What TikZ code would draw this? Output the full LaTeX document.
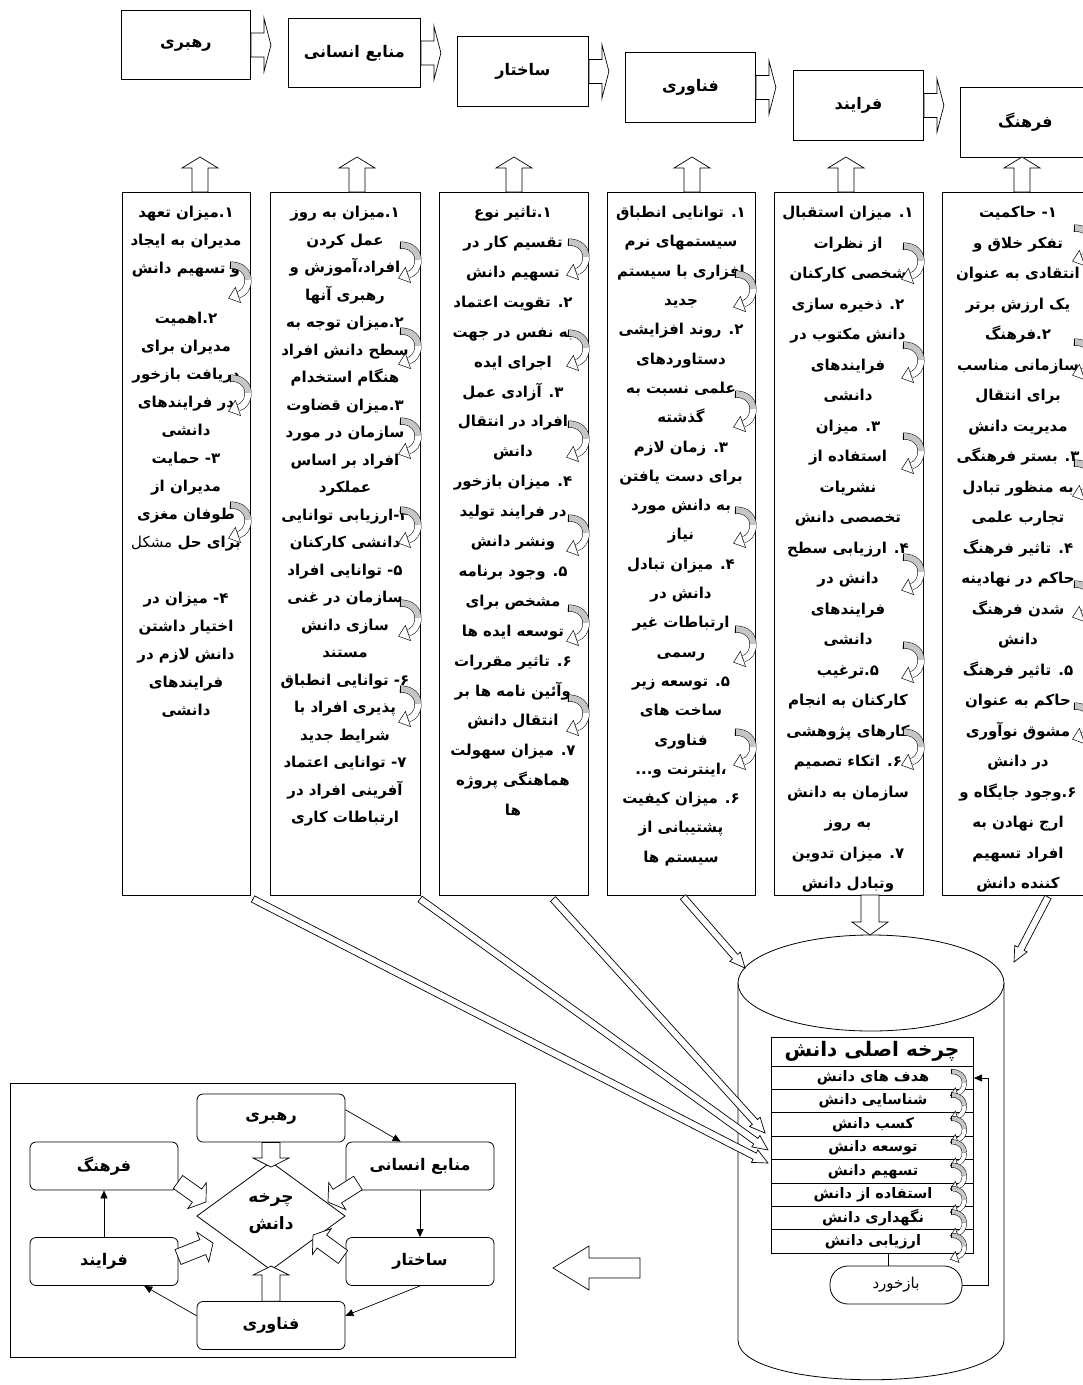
\documentclass[tikz,border=0pt]{standalone}
\usepackage{fontspec}
\usetikzlibrary{calc,arrows.meta}
\TeXXeTstate=1
\newfontfamily\fa[Script=Arabic]{DejaVu Sans}
\newcommand\RL[1]{\beginR #1\endR}
\newcommand\blockarr[6][]{%
  \coordinate (baH) at ($(#3)!#6!(#2)$);
  \draw[arrbody,#1] ($(#2)!#4!90:(#3)$) -- ($(baH)!#4!90:(#3)$) -- ($(baH)!#5!90:(#3)$) -- (#3) -- ($(baH)!#5!-90:(#3)$) -- ($(baH)!#4!-90:(#3)$) -- ($(#2)!#4!-90:(#3)$) -- cycle;}
\tikzset{
  pics/curvarr/.style={code={
    \draw[line width=0.5pt, double=gray!45, double distance=#1] (2,5) .. controls (14,5) and (20,12) .. (20,20);
    \draw[line width=0.5pt, double=white, double distance=#1] (20,20) .. controls (20,28) and (16,33) .. (10.5,34.8);
    \draw[line width=0.5pt, fill=white] (7.4,27.4) -- (0.5,38.2) -- (12.6,42.6) -- cycle;
    \draw[line width=0.5pt] (2,1.5) -- (2,8.5);
  }}
}
\begin{document}
\begin{tikzpicture}[x=1pt,y=-1pt,
  topbox/.style={draw, line width=0.9pt, inner sep=0, anchor=north west, font=\fa\bfseries\fontsize{16}{18}\selectfont},
  colbox/.style={draw, line width=0.8pt, inner sep=0, anchor=north west},
  coltext/.style={font=\fa\bfseries\fontsize{15}{#1}\selectfont, align=center, inner sep=0, anchor=north},
  arrbody/.style={draw, line width=0.7pt, fill=white, line join=miter},
  smallbox/.style={draw, rounded corners=6pt, line width=0.8pt, minimum width=148, minimum height=48, inner sep=0, font=\fa\bfseries\fontsize{16}{18}\selectfont},
  thinarr/.style={line width=0.7pt, -{Triangle[length=8pt,width=7pt]}},
  rowtext/.style={font=\fa\bfseries\fontsize{14.5}{16}\selectfont, inner sep=0},
]
\useasboundingbox (0,0) rectangle (1083,1385);
\clip (0,0) rectangle (1083,1385);
\fill[white] (0,0) rectangle (1083,1385);

% ---------- top boxes ----------
\node[topbox, minimum width=129, minimum height=69] (t1) at (121,10) {\RL{رهبری}};
\node[topbox, minimum width=132, minimum height=69] (t2) at (288,18) {\RL{منابع انسانی}};
\node[topbox, minimum width=131, minimum height=70] (t3) at (457,36) {\RL{ساختار}};
\node[topbox, minimum width=130, minimum height=70] (t4) at (625,52) {\RL{فناوری}};
\node[topbox, minimum width=130, minimum height=70] (t5) at (793,70) {\RL{فرایند}};
\node[topbox, minimum width=130, minimum height=70] (t6) at (960,87) {\RL{فرهنگ}};
\foreach \i in {1,...,5}{
  \coordinate (ta\i) at ($(t\i.east)+(20,0)$);
  \blockarr{t\i.east}{ta\i}{12pt}{27pt}{7pt}
}

% ---------- columns ----------
\node[colbox, minimum width=128, minimum height=703] (c1) at (122,192) {};
\node[colbox, minimum width=150, minimum height=703] (c2) at (270,192) {};
\node[colbox, minimum width=149, minimum height=703] (c3) at (439,192) {};
\node[colbox, minimum width=148, minimum height=703] (c4) at (607,192) {};
\node[colbox, minimum width=149, minimum height=703] (c5) at (774,192) {};
\node[colbox, minimum width=152, minimum height=703] (c6) at (942,192) {};

% up arrows
\foreach \i/\x in {1/200,2/357,3/514,4/692,5/846,6/1022}{
  \coordinate (ub\i) at (\x,192);
  \coordinate (ut\i) at (\x,157);
  \blockarr{ub\i}{ut\i}{8pt}{18pt}{11pt}
}

\node[coltext=28] (c1t) at (186,206) {%
\RL{۱.میزان تعهد}\\
\RL{مدیران به ایجاد}\\
\RL{و تسهیم دانش}\\[22pt]
\RL{۲.اهمیت}\\
\RL{مدیران برای}\\
\RL{دریافت بازخور}\\
\RL{در فرایندهای}\\
\RL{دانشی}\\
\RL{۳- حمایت}\\
\RL{مدیران از}\\
\RL{طوفان مغزی}\\
\RL{برای حل {\mdseries مشکل}}\\[28pt]
\RL{۴- میزان در}\\
\RL{اختیار داشتن}\\
\RL{دانش لازم در}\\
\RL{فرایندهای}\\
\RL{دانشی}};

\node[coltext=27.5] (c2t) at (345,206) {%
\RL{۱.میزان به روز}\\
\RL{عمل کردن}\\
\RL{افراد،آموزش و}\\
\RL{رهبری آنها}\\
\RL{۲.میزان توجه به}\\
\RL{سطح دانش افراد}\\
\RL{هنگام استخدام}\\
\RL{۳.میزان قضاوت}\\
\RL{سازمان در مورد}\\
\RL{افراد بر اساس}\\
\RL{عملکرد}\\
\RL{۴-ارزیابی توانایی}\\
\RL{دانشی کارکنان}\\
\RL{۵- توانایی افراد}\\
\RL{سازمان در غنی}\\
\RL{سازی دانش}\\
\RL{مستند}\\
\RL{۶- توانایی انطباق}\\
\RL{پذیری افراد با}\\
\RL{شرایط جدید}\\
\RL{۷- توانایی اعتماد}\\
\RL{آفرینی افراد در}\\
\RL{ارتباطات کاری}};

\node[coltext=29.9] (c3t) at (513,206) {%
\RL{۱.تاثیر نوع}\\
\RL{تقسیم کار در}\\
\RL{تسهیم دانش}\\
\RL{۲. تقویت اعتماد}\\
\RL{به نفس در جهت}\\
\RL{اجرای ایده}\\
\RL{۳. آزادی عمل}\\
\RL{افراد در انتقال}\\
\RL{دانش}\\
\RL{۴. میزان بازخور}\\
\RL{در فرایند تولید}\\
\RL{ونشر دانش}\\
\RL{۵. وجود برنامه}\\
\RL{مشخص برای}\\
\RL{توسعه ایده ها}\\
\RL{۶. تاثیر مقررات}\\
\RL{وآئین نامه ها بر}\\
\RL{انتقال دانش}\\
\RL{۷. میزان سهولت}\\
\RL{هماهنگی پروژه}\\
\RL{ها}};

\node[coltext=29.3] (c4t) at (681,206) {%
\RL{۱. توانایی انطباق}\\
\RL{سیستمهای نرم}\\
\RL{افزاری با سیستم}\\
\RL{جدید}\\
\RL{۲. روند افزایشی}\\
\RL{دستاوردهای}\\
\RL{علمی نسبت به}\\
\RL{گذشته}\\
\RL{۳. زمان لازم}\\
\RL{برای دست یافتن}\\
\RL{به دانش مورد}\\
\RL{نیاز}\\
\RL{۴. میزان تبادل}\\
\RL{دانش در}\\
\RL{ارتباطات غیر}\\
\RL{رسمی}\\
\RL{۵. توسعه زیر}\\
\RL{ساخت های}\\
\RL{فناوری}\\
\RL{،اینترنت و...}\\
\RL{۶. میزان کیفیت}\\
\RL{پشتیبانی از}\\
\RL{سیستم ها}};

\node[coltext=30.5] (c5t) at (848,206) {%
\RL{۱. میزان استقبال}\\
\RL{از نظرات}\\
\RL{شخصی کارکنان}\\
\RL{۲. ذخیره سازی}\\
\RL{دانش مکتوب در}\\
\RL{فرایندهای}\\
\RL{دانشی}\\
\RL{۳. میزان}\\
\RL{استفاده از}\\
\RL{نشریات}\\
\RL{تخصصی دانش}\\
\RL{۴. ارزیابی سطح}\\
\RL{دانش در}\\
\RL{فرایندهای}\\
\RL{دانشی}\\
\RL{۵.ترغیب}\\
\RL{کارکنان به انجام}\\
\RL{کارهای پژوهشی}\\
\RL{۶. اتکاء تصمیم}\\
\RL{سازمان به دانش}\\
\RL{به روز}\\
\RL{۷. میزان تدوین}\\
\RL{وتبادل دانش}};

\node[coltext=30.5] (c6t) at (1018,206) {%
\RL{۱- حاکمیت}\\
\RL{تفکر خلاق و}\\
\RL{انتقادی به عنوان}\\
\RL{یک ارزش برتر}\\
\RL{۲.فرهنگ}\\
\RL{سازمانی مناسب}\\
\RL{برای انتقال}\\
\RL{مدیریت دانش}\\
\RL{۳. بستر فرهنگی}\\
\RL{به منظور تبادل}\\
\RL{تجارب علمی}\\
\RL{۴. تاثیر فرهنگ}\\
\RL{حاکم در نهادینه}\\
\RL{شدن فرهنگ}\\
\RL{دانش}\\
\RL{۵. تاثیر فرهنگ}\\
\RL{حاکم به عنوان}\\
\RL{مشوق نوآوری}\\
\RL{در دانش}\\
\RL{۶.وجود جایگاه و}\\
\RL{ارج نهادن به}\\
\RL{افراد تسهیم}\\
\RL{کننده دانش}};

% curved arrows on column edges
\foreach \y in {260,373,500} {\pic at (228,\y) {curvarr=6pt};}
\foreach \y in {240,326,416,505,598,684} {\pic at (398,\y) {curvarr=6pt};}
\foreach \y in {237,328,419,513,603,693} {\pic at (566,\y) {curvarr=6pt};}
\foreach \y in {269,389,505,624,727} {\pic at (733,\y) {curvarr=6pt};}
\foreach \y in {241,340,431,552,640,727} {\pic at (901,\y) {curvarr=6pt};}
\foreach \y in {223,337,458,579,701} {\pic at (1072,\y) {curvarr=6pt};}

% ---------- cylinder ----------
\draw[line width=0.8pt, fill=white] (738,983) -- (738,1340) .. controls (738,1393) and (1004,1393) .. (1004,1340) -- (1004,983);
\draw[line width=0.8pt, fill=white] (871,983) ellipse [x radius=133, y radius=48];
\coordinate (cyltop) at (870,935);
\coordinate (c5bot) at (870,895);
\blockarr{c5bot}{cyltop}{9pt}{18pt}{13pt}

\node[draw, line width=0.8pt, minimum width=202, minimum height=216, anchor=north west, inner sep=0] (tbl) at (771,1037) {};
\node[font=\fa\bfseries\fontsize{20}{22}\selectfont] (ttl) at (872,1051) {\RL{چرخه اصلی دانش}};
\draw[line width=0.8pt] (771,1066) -- (973,1066);
\foreach \k in {1,...,7}{ \draw[line width=0.7pt] (771,{1066+\k*23.4}) -- (973,{1066+\k*23.4}); }
\foreach \k/\t in {1/هدف های دانش,2/شناسایی دانش,3/کسب دانش,4/توسعه دانش,5/تسهیم دانش,6/استفاده از دانش,7/نگهداری دانش,8/ارزیابی دانش}{
  \node[rowtext] (r\k) at (873,{1066+(\k-0.5)*23.4}) {\RL{\t}};
}
\foreach \k in {0,...,7}{ \pic[scale=0.72] at (950,{1068+\k*23.4}) {curvarr=4pt}; }

\node[draw, line width=0.8pt, rounded corners=18pt, minimum width=132, minimum height=38, inner sep=0, font=\fa\fontsize{15}{17}\selectfont] (fb) at (896,1285) {\RL{بازخورد}};
\coordinate (tblb) at (888,1253);
\draw[line width=0.7pt] (tblb) -- (tblb |- fb.north);
\coordinate (fbk) at (988,1078);
\coordinate (tblr1) at (974,1078);
\draw[thinarr] (fb.east) -- (fb.east -| fbk) -- (fbk) -- (tblr1);

% ---------- arrows from columns to cylinder ----------
\coordinate (aS) at (253,899); \coordinate (aE) at (768,1163);
\coordinate (bS) at (420,899); \coordinate (bE) at (768,1150);
\coordinate (cS) at (553,899); \coordinate (cE) at (765,1133);
\coordinate (dS) at (683,897); \coordinate (dE) at (745,968);
\coordinate (eS) at (1048,897); \coordinate (eE) at (1014,962);
\blockarr{aS}{aE}{3.5pt}{7pt}{15pt}
\blockarr{bS}{bE}{3.5pt}{7pt}{15pt}
\blockarr{cS}{cE}{3.5pt}{7pt}{15pt}
\blockarr{dS}{dE}{3.5pt}{7pt}{15pt}
\blockarr{eS}{eE}{3.5pt}{7pt}{15pt}

% big left arrow
\coordinate (bigS) at (640,1268); \coordinate (bigE) at (553,1268);
\blockarr{bigS}{bigE}{10pt}{22pt}{36pt}

% ---------- bottom-left panel ----------
\draw[line width=0.9pt] (10,1083) rectangle (515,1357);
\node[smallbox] (rb) at (271,1118) {\RL{رهبری}};
\node[smallbox] (fh) at (104,1166) {\RL{فرهنگ}};
\node[smallbox] (mn) at (420,1166) {\RL{منابع انسانی}};
\node[smallbox] (fr) at (104,1261.5) {\RL{فرایند}};
\node[smallbox] (sk) at (420,1261.5) {\RL{ساختار}};
\node[smallbox] (fn) at (271,1325.5) {\RL{فناوری}};
\draw[line width=0.8pt] (197,1216) -- (271,1162) -- (345,1216) -- (271,1270) -- cycle;
\node[align=center, inner sep=0, font=\fa\bfseries\fontsize{17}{27}\selectfont] (dm) at (271,1214) {\RL{چرخه}\\\RL{دانش}};

\draw[thinarr] ($(rb.north east)!0.33!(rb.south east)$) -- ($(mn.north west)!0.37!(mn.north east)$);
\draw[thinarr] (mn.south) -- (sk.north);
\draw[thinarr] (sk.south) -- ($(fn.north east)!0.3!(fn.south east)$);
\draw[thinarr] ($(fn.north west)!0.3!(fn.south west)$) -- ($(fr.south west)!0.77!(fr.south east)$);
\draw[thinarr] (fr.north) -- (fh.south);

\coordinate (q1s) at (rb.south); \coordinate (q1e) at (271,1167);
\blockarr{q1s}{q1e}{9pt}{18pt}{9pt}
\coordinate (q2s) at (fn.north); \coordinate (q2e) at (271,1266);
\blockarr{q2s}{q2e}{9pt}{18pt}{9pt}
\coordinate (q3s) at (358,1183); \coordinate (q3e) at (328,1202);
\blockarr{q3s}{q3e}{8pt}{16pt}{11pt}
\coordinate (q4s) at (343,1257); \coordinate (q4e) at (313,1235);
\blockarr{q4s}{q4e}{8pt}{16pt}{11pt}
\coordinate (q5s) at (178,1182); \coordinate (q5e) at (206,1202);
\blockarr{q5s}{q5e}{8pt}{16pt}{11pt}
\coordinate (q6s) at (178,1257); \coordinate (q6e) at (213,1243);
\blockarr{q6s}{q6e}{8pt}{16pt}{11pt}
\end{tikzpicture}
\end{document}
